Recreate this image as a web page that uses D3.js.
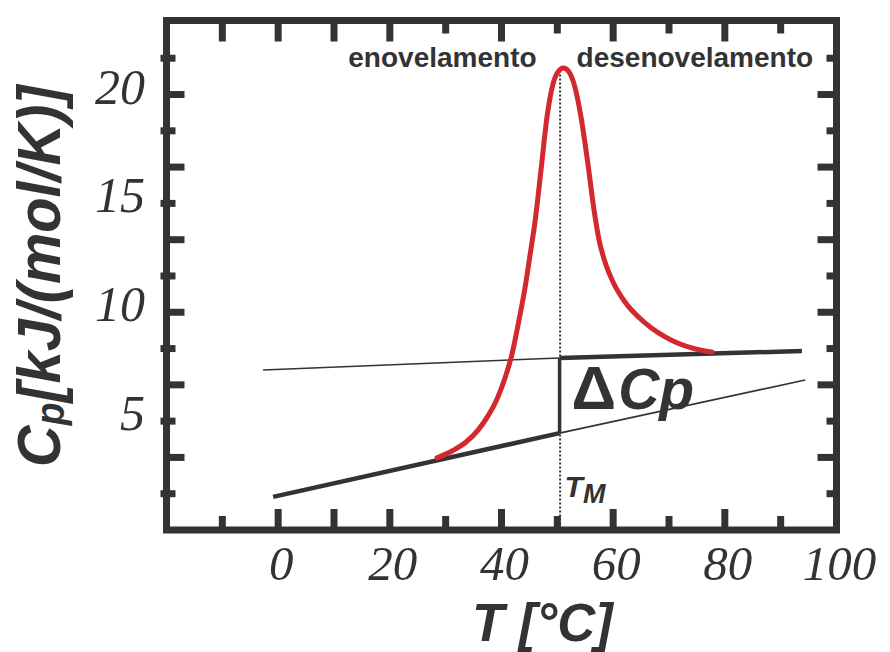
<!DOCTYPE html>
<html>
<head>
<meta charset="utf-8">
<script src="https://cdn.jsdelivr.net/npm/d3@7"></script>
<style>
  body { margin: 0; background: #fff; }
  svg { display: block; }
</style>
</head>
<body>
<svg width="890" height="652"></svg>
<script>
// red DSC-like peak
const peakT = [28.45, 31.14, 33.65, 35.8, 37.59, 39.2, 40.63, 41.88, 43.14, 44.21, 45.11, 46.0, 47.08,
  48.15, 49.23, 50.12, 51.11, 52.09, 52.99, 54.24, 55.5, 56.57, 57.47, 58.54, 59.97, 62.12, 65.71,
  70.72, 75.56, 77.71];
const peakCp = [3.31, 3.63, 4.04, 4.59, 5.24, 6.02, 6.98, 8.08, 9.65, 11.12, 12.63, 14.15, 16.54,
  18.97, 20.49, 21.04, 21.22, 21.04, 20.49, 18.97, 16.77, 14.7, 13.32, 12.31, 11.39, 10.47, 9.51,
  8.68, 8.27, 8.18];

// baselines (start, Tm, end)
const TM = 50.4;
const unfoldedT = [-2.7, TM, 93.8];
const unfoldedCp = [7.35, 7.9, 8.22];
const nativeT = [-0.9, TM, 94.4];
const nativeCp = [1.52, 4.45, 6.89];

// ticks
const xLabels = [0, 20, 40, 60, 80, 100];
const xTicksBottomLong = [0, 10, 20, 40, 60, 80];
const xTicksBottomShort = [-10, 30, 50, 70, 90];
const xTicksTopLong = [-10, 0, 10, 20, 40, 60, 80];
const xTicksTopShort = [30, 50, 70, 90];
const yLabels = [5, 10, 15, 20];
const yTicksLong = [3.333, 6.667, 10, 13.333, 16.667, 20];
const yTicksShort = [1.667, 5, 8.333, 11.667, 15, 18.333, 21.667];

const dark = "#333";
const red = "#d2282e";

const svg = d3.select("svg");

const x = d3.scaleLinear().domain([-20, 100]).range([166.5, 836.5]);
const y = d3.scaleLinear().domain([0, 23.4]).range([530, 20.5]);

const [x0, x1] = x.range();
const [yb, yt] = y.range();

// ticks (drawn first, frame goes over)
function vTicks(vals, y0, len) {
  svg.append("g").selectAll("line").data(vals).join("line")
    .attr("x1", d => x(d)).attr("x2", d => x(d))
    .attr("y1", y0).attr("y2", y0 + len)
    .attr("stroke", dark).attr("stroke-width", 7);
}
function hTicks(vals, xa, xb) {
  svg.append("g").selectAll("line").data(vals).join("line")
    .attr("y1", d => y(d)).attr("y2", d => y(d))
    .attr("x1", xa).attr("x2", xb)
    .attr("stroke", dark).attr("stroke-width", 7);
}
vTicks(xTicksBottomLong, yb, -21);
vTicks(xTicksBottomShort, yb, -14);
vTicks(xTicksTopLong, yt, 21);
vTicks(xTicksTopShort, yt, 13);
hTicks(yTicksLong, x0, x0 + 18);
hTicks(yTicksShort, x0 - 6, x0 + 9);
hTicks(yTicksLong, x1, x1 - 19);
hTicks(yTicksShort, x1, x1 - 10);

// frame
svg.append("rect")
  .attr("x", x0).attr("y", yt)
  .attr("width", x1 - x0).attr("height", yb - yt)
  .attr("fill", "none").attr("stroke", dark).attr("stroke-width", 7);

// tick labels
svg.append("g").selectAll("text").data(xLabels).join("text")
  .attr("x", d => x(d) + 3).attr("y", 580)
  .attr("text-anchor", "middle")
  .attr("font-family", "'Liberation Serif', 'Times New Roman', serif")
  .attr("font-style", "italic").attr("font-size", 49)
  .attr("fill", dark)
  .text(d => d);

svg.append("g").selectAll("text").data(yLabels).join("text")
  .attr("x", 145).attr("y", d => y(d) + 9)
  .attr("text-anchor", "end")
  .attr("font-family", "'Liberation Serif', 'Times New Roman', serif")
  .attr("font-style", "italic").attr("font-size", 50)
  .attr("fill", dark)
  .text(d => d);

// dotted Tm line
svg.append("line")
  .attr("x1", x(TM) + 0.5).attr("x2", x(TM) + 0.5)
  .attr("y1", y(21.1)).attr("y2", yb)
  .attr("stroke", dark).attr("stroke-width", 2)
  .attr("stroke-dasharray", "2,2");

// baselines
const pts = (ts, cs) => ts.map((t, i) => [x(t), y(cs[i])]);
const line = d3.line();
const nat = pts(nativeT, nativeCp);
const unf = pts(unfoldedT, unfoldedCp);

svg.append("path").attr("d", line([nat[0], nat[1]]))
  .attr("stroke", dark).attr("stroke-width", 4.5).attr("fill", "none");
svg.append("path").attr("d", line([nat[1], nat[2]]))
  .attr("stroke", dark).attr("stroke-width", 1.6).attr("fill", "none");
svg.append("path").attr("d", line([unf[0], unf[1]]))
  .attr("stroke", dark).attr("stroke-width", 1.6).attr("fill", "none");
svg.append("path").attr("d", line([unf[1], unf[2]]))
  .attr("stroke", dark).attr("stroke-width", 4.5).attr("fill", "none");
// delta Cp step at Tm
svg.append("path").attr("d", line([nat[1], unf[1]]))
  .attr("stroke", dark).attr("stroke-width", 3.5).attr("fill", "none");

// red peak
svg.append("path")
  .attr("d", d3.line().curve(d3.curveMonotoneX)(pts(peakT, peakCp)))
  .attr("stroke", red).attr("stroke-width", 5).attr("fill", "none")
  .attr("stroke-linecap", "round");

const sans = "'Liberation Sans', Arial, Helvetica, sans-serif";

// top labels
svg.append("text")
  .attr("x", x(TM) - 23).attr("y", 67)
  .attr("text-anchor", "end")
  .attr("font-family", sans).attr("font-weight", "bold").attr("font-size", 28)
  .attr("fill", dark).text("enovelamento");
svg.append("text")
  .attr("x", x(TM) + 17).attr("y", 67)
  .attr("font-family", sans).attr("font-weight", "bold").attr("font-size", 28)
  .attr("fill", dark).text("desenovelamento");

// delta Cp
const dcp = svg.append("text")
  .attr("x", x(TM) + 12).attr("y", y(5.55))
  .attr("font-family", sans).attr("font-weight", "bold")
  .attr("fill", dark);
dcp.append("tspan").attr("font-size", 62).text("\u0394");
dcp.append("tspan").attr("font-size", 57).attr("font-style", "italic").attr("dx", 2).text("C");
dcp.append("tspan").attr("font-size", 57).attr("font-style", "italic").text("p");

// T_M
const tm = svg.append("text")
  .attr("x", x(TM) + 5).attr("y", y(1.5))
  .attr("font-family", sans).attr("font-weight", "bold").attr("font-style", "italic")
  .attr("fill", dark);
tm.append("tspan").attr("font-size", 30).text("T");
tm.append("tspan").attr("font-size", 27).attr("dy", 6).text("M");

// axis titles, squeezed to the length seen in the picture
function fit(g, len) {
  const w = g.node().getBBox().width;
  g.select("text").attr("transform", `scale(${len / w},1)`);
}

const xt = svg.append("g").attr("transform", "translate(472,640.5)");
xt.append("text")
  .attr("font-family", sans).attr("font-weight", "bold").attr("font-style", "italic")
  .attr("font-size", 53).attr("fill", dark)
  .text("T [\u00B0C]");
fit(xt, 143);

const yt2 = svg.append("g").attr("transform", "translate(60,467) rotate(-90)");
const ylab = yt2.append("text")
  .attr("font-family", sans).attr("font-weight", "bold").attr("font-style", "italic")
  .attr("font-size", 62).attr("fill", dark);
ylab.append("tspan").text("C");
ylab.append("tspan").attr("font-size", 40).attr("dy", 4).text("p");
ylab.append("tspan").attr("dy", -4).text("[kJ/(mol/K)]");
fit(yt2, 384);
</script>
</body>
</html>
